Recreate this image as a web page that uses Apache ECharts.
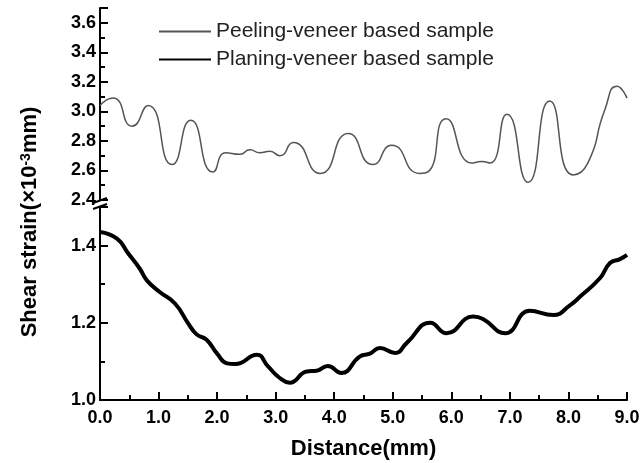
<!DOCTYPE html>
<html>
<head>
<meta charset="utf-8">
<script src="https://cdn.jsdelivr.net/npm/echarts@6/dist/echarts.min.js"></script>
<style>
  html, body { margin: 0; padding: 0; background: #fff; }
  #chart { width: 643px; height: 463px; }
</style>
</head>
<body>
<div id="chart"></div>
<script>
// peeling-veneer based sample (upper panel)
const peelX = [0.0, 0.22, 0.55, 0.82, 1.23, 1.55, 1.93, 2.15, 2.39, 2.56, 2.73, 2.9, 3.07, 3.3, 3.76, 4.24, 4.66, 4.98, 5.46, 5.6, 5.91, 6.35, 6.52, 6.66, 6.95, 7.31, 7.68, 8.08, 8.33, 8.62, 8.83, 9.0];
const peelY = [3.04, 3.09, 2.90, 3.04, 2.64, 2.94, 2.59, 2.72, 2.71, 2.74, 2.72, 2.73, 2.70, 2.79, 2.58, 2.85, 2.64, 2.77, 2.58, 2.59, 2.95, 2.65, 2.66, 2.65, 2.98, 2.52, 3.07, 2.57, 2.65, 3.01, 3.17, 3.09];
// planing-veneer based sample (lower panel)
const planeX = [0.0, 0.29, 0.48, 0.68, 0.8, 1.02, 1.28, 1.5, 1.65, 1.82, 2.0, 2.17, 2.31, 2.68, 2.87, 3.07, 3.24, 3.53, 3.7, 3.89, 4.12, 4.44, 4.61, 4.78, 5.04, 5.24, 5.64, 5.92, 6.37, 6.54, 6.92, 7.34, 7.74, 8.03, 8.2, 8.54, 8.71, 8.88, 9.0];
const planeY = [1.435, 1.418, 1.38, 1.34, 1.31, 1.28, 1.25, 1.20, 1.17, 1.156, 1.12, 1.095, 1.093, 1.117, 1.087, 1.057, 1.045, 1.074, 1.076, 1.088, 1.07, 1.113, 1.12, 1.135, 1.122, 1.148, 1.20, 1.173, 1.216, 1.21, 1.173, 1.231, 1.22, 1.246, 1.268, 1.316, 1.355, 1.365, 1.376];

const seriesNames = ['Peeling-veneer based sample', 'Planing-veneer based sample'];
const font = 'Liberation Sans, Arial, sans-serif';

const chart = echarts.init(document.getElementById('chart'));

// ticks point into the plot, major longer than minor
const axisCommon = {
  axisLine: { show: true, lineStyle: { color: '#000', width: 2 } },
  axisTick: { show: true, inside: true, length: 8, lineStyle: { color: '#000', width: 2 } },
  minorTick: { show: true, splitNumber: 2, length: 5, lineStyle: { color: '#000', width: 2 } },
  splitLine: { show: false },
  axisLabel: { color: '#000', fontFamily: font, fontWeight: 'bold', fontSize: 18 }
};

function yLabel(hide) {
  return (v) => (Math.abs(v - hide) < 1e-6 ? '' : v.toFixed(1));
}

chart.setOption({
  animation: false,
  backgroundColor: '#fff',
  grid: [
    { left: 100, right: 16, top: 8, height: 192 },
    { left: 100, right: 16, top: 207, bottom: 63 }
  ],
  legend: {
    orient: 'vertical',
    left: 153,
    top: 16,
    itemWidth: 52,
    itemHeight: 14,
    itemGap: 7,
    itemStyle: { color: 'rgba(0,0,0,0)', borderWidth: 0 },
    textStyle: { fontFamily: font, fontSize: 21, color: '#222' },
    data: seriesNames
  },
  xAxis: [
    { type: 'value', gridIndex: 0, min: 0, max: 9, interval: 1, show: false },
    {
      ...axisCommon,
      type: 'value', gridIndex: 1, min: 0, max: 9, interval: 1,
      axisLabel: { ...axisCommon.axisLabel, margin: 9, formatter: (v) => v.toFixed(1) },
      name: 'Distance(mm)',
      nameLocation: 'middle',
      nameGap: 38,
      nameTextStyle: { fontFamily: font, fontWeight: 'bold', fontSize: 22, color: '#000' }
    }
  ],
  yAxis: [
    {
      ...axisCommon,
      type: 'value', gridIndex: 0, min: 2.4, max: 3.7, interval: 0.2,
      axisLabel: { ...axisCommon.axisLabel, margin: 4, formatter: yLabel(3.7) }
    },
    {
      ...axisCommon,
      type: 'value', gridIndex: 1, min: 1.0, max: 1.5, interval: 0.2,
      axisLabel: { ...axisCommon.axisLabel, margin: 4, formatter: yLabel(1.5) }
    }
  ],
  graphic: [
    {
      type: 'text',
      x: 30, y: 222,
      rotation: Math.PI / 2,
      style: {
        text: 'Shear strain(×10{sup|-3}mm)',
        fontFamily: font, fontWeight: 'bold', fontSize: 22, fill: '#000',
        align: 'center', verticalAlign: 'middle',
        rich: {
          sup: { fontFamily: font, fontWeight: 'bold', fontSize: 14, verticalAlign: 'top', fill: '#000' }
        }
      }
    },
    // axis break marks
    { type: 'line', shape: { x1: 93, y1: 203, x2: 107, y2: 198 }, style: { stroke: '#000', lineWidth: 2 } },
    { type: 'line', shape: { x1: 93, y1: 209, x2: 107, y2: 204 }, style: { stroke: '#000', lineWidth: 2 } }
  ],
  series: [
    {
      name: seriesNames[0],
      type: 'line',
      xAxisIndex: 0, yAxisIndex: 0,
      smooth: 0.6,
      symbol: 'none',
      lineStyle: { color: '#555', width: 1.5 },
      itemStyle: { color: '#555' },
      data: peelX.map((x, i) => [x, peelY[i]])
    },
    {
      name: seriesNames[1],
      type: 'line',
      xAxisIndex: 1, yAxisIndex: 1,
      smooth: 0.5,
      symbol: 'none',
      lineStyle: { color: '#000', width: 4 },
      itemStyle: { color: '#000' },
      data: planeX.map((x, i) => [x, planeY[i]])
    }
  ]
});
</script>
</body>
</html>
